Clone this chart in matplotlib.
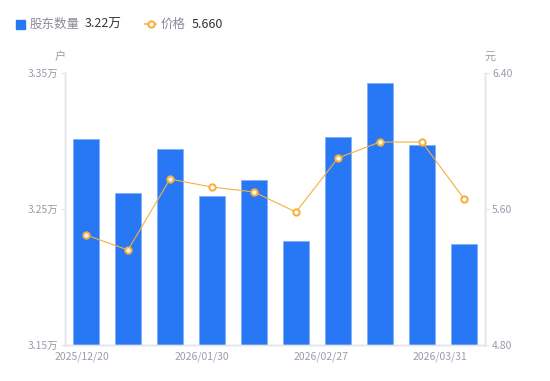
import matplotlib.pyplot as plt
from matplotlib.lines import Line2D
import numpy as np

plt.rcParams['font.family'] = ['Noto Sans CJK SC', 'DejaVu Sans']

# data
dates = ['2025/12/20', '2025/12/31', '2026/01/20', '2026/01/30', '2026/02/10',
         '2026/02/20', '2026/02/27', '2026/03/10', '2026/03/20', '2026/03/31']
holders = [3.3015, 3.2618, 3.2941, 3.2596, 3.2713, 3.2265, 3.3029, 3.3426, 3.2971, 3.2245]  # 万户
price = [5.447, 5.359, 5.776, 5.729, 5.700, 5.582, 5.900, 5.994, 5.994, 5.660]
label_idx = [0, 3, 6, 9]
yticks_left = [3.15, 3.25, 3.35]
yticks_right = [4.80, 5.60, 6.40]

BLUE = '#2877F5'
ORANGE = '#F7B03C'
GRAY = '#9B9BAB'
SPINE = '#E3E3E8'

fig = plt.figure(figsize=(5.5, 3.81), dpi=100)
ax = fig.add_axes([65 / 550, 36 / 381, 420 / 550, 272 / 381])
x = np.arange(len(dates))
ax.bar(x, holders, width=0.6, color=BLUE, edgecolor='#7FB0FA', linewidth=0.6, zorder=2)
ax.set_xlim(-0.5, len(dates) - 0.5)
ax.set_ylim(yticks_left[0], yticks_left[-1])
ax.set_yticks(yticks_left)
ax.set_yticklabels([f'{v:.2f}万' for v in yticks_left])

ax2 = ax.twinx()
ax2.plot(x, price, color=ORANGE, lw=0.8, marker='o', ms=4.5, mfc='white',
         mec=ORANGE, mew=1.5, zorder=3)
ax2.set_ylim(yticks_right[0], yticks_right[-1])
ax2.set_yticks(yticks_right)
ax2.set_yticklabels([f'{v:.2f}' for v in yticks_right])

# x labels spread evenly across the axis like the reference
pos = np.linspace(-0.095, 8.43, len(label_idx))
ax.set_xticks(pos)
ax.set_xticklabels([dates[i] for i in label_idx])

for a in (ax, ax2):
    for s in a.spines.values():
        s.set_color(SPINE)
        s.set_linewidth(1.0)
    a.spines['top'].set_visible(False)
    a.tick_params(axis='y', colors=SPINE, labelcolor=GRAY, labelsize=7.5, length=3, width=0.8, pad=2)
    a.tick_params(axis='x', length=0, labelcolor=GRAY, labelsize=7.5, pad=5)

fig.text(60 / 550, 1 - 57 / 381, '户', color=GRAY, fontsize=8, ha='center', va='center')
fig.text(490 / 550, 1 - 57 / 381, '元', color=GRAY, fontsize=8, ha='center', va='center')

# legend row
fig.patches.append(plt.Rectangle((16 / 550, 1 - 29 / 381), 9 / 550, 9 / 381,
                                 transform=fig.transFigure, color=BLUE, figure=fig))
fig.text(30 / 550, 1 - 24 / 381, '股东数量', color='#8A8A99', fontsize=9, va='center')
fig.text(85 / 550, 1 - 24 / 381, f'{holders[-1]:.2f}万', color='#333333', fontsize=9, va='center')
fig.lines.append(Line2D([145 / 550, 156 / 550], [1 - 24 / 381] * 2, transform=fig.transFigure,
                        color=ORANGE, lw=1.2, figure=fig))
fig.lines.append(Line2D([150.5 / 550], [1 - 24 / 381], transform=fig.transFigure, color=ORANGE,
                        marker='o', ms=4.5, mfc='white', mew=1.5, figure=fig))
fig.text(161 / 550, 1 - 24 / 381, '价格', color='#8A8A99', fontsize=9, va='center')
fig.text(192 / 550, 1 - 24 / 381, f'{price[-1]:.3f}', color='#333333', fontsize=9, va='center')

fig.savefig('out.png', dpi=100)
